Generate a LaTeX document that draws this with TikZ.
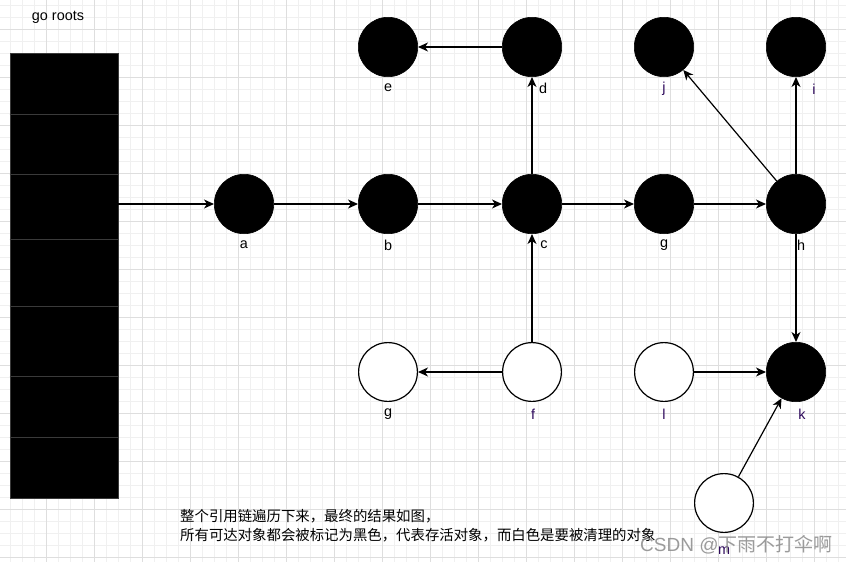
\documentclass[tikz,border=0pt]{standalone}
\usepackage{fontspec}
\setmainfont{Liberation Sans}
\newfontfamily\cjk{Noto Sans CJK SC}
\usetikzlibrary{arrows.meta}
\definecolor{minorgrid}{HTML}{F0F0F0}
\definecolor{majorgrid}{HTML}{DEDEDE}
\definecolor{lblp}{HTML}{2E0A5C}
\definecolor{divider}{HTML}{3A3A3A}
\definecolor{wmark}{HTML}{8A8A8A}
\begin{document}
\begin{tikzpicture}[x=1pt,y=-1pt,
  blk/.style={circle,fill=black,draw=black,line width=0.6pt,minimum size=59.4pt,inner sep=0pt},
  wht/.style={circle,fill=white,draw=black,line width=1.2pt,minimum size=58.8pt,inner sep=0pt},
  lab/.style={font=\fontsize{14.4}{17}\selectfont,inner sep=0pt},
  labp/.style={lab,text=lblp},
  arr/.style={line width=1.2pt,-{Stealth[length=10pt,width=9pt,inset=3pt]}},
]
\useasboundingbox (0,0) rectangle (846,562);
\fill[white] (0,0) rectangle (846,562);
% grid
\foreach \x in {10,22,...,846} \draw[minorgrid,line width=0.8pt] (\x,0) -- (\x,562);
\foreach \y in {5,17,...,562} \draw[minorgrid,line width=0.8pt] (0,\y) -- (846,\y);
\foreach \x in {46,94,...,846} \draw[majorgrid,line width=0.9pt] (\x,0) -- (\x,562);
\foreach \y in {29,77,...,562} \draw[majorgrid,line width=0.9pt] (0,\y) -- (846,\y);

% roots stack
\node[lab] (title) at (58,17) {go roots};
\node[fill=black,draw=divider,line width=0.8pt,minimum width=108pt,minimum height=445pt,inner sep=0pt] (roots) at (64,275.5) {};
\foreach \y in {114,174,239,306,376,437}
  \draw[divider,line width=1pt] (roots.west |- 0,\y) -- (roots.east |- 0,\y);

% black nodes
\node[blk] (a) at (244,204) {};
\node[blk] (b) at (388,204) {};
\node[blk] (c) at (532,204) {};
\node[blk] (g1) at (664,204) {};
\node[blk] (h) at (796,204) {};
\node[blk] (e) at (388,47) {};
\node[blk] (d) at (532,47) {};
\node[blk] (j) at (664,47) {};
\node[blk] (i) at (796,47) {};
\node[blk] (k) at (796,372) {};
% white nodes
\node[wht] (g2) at (388,372) {};
\node[wht] (f) at (532,372) {};
\node[wht] (l) at (664,372) {};
\node[wht] (m) at (724,503) {};

% labels
\node[lab] (la) at (244,245) {a};
\node[lab] (lb) at (388,245) {b};
\node[lab] (lc) at (544,245) {c};
\node[lab] (lg1) at (664,245) {g};
\node[lab] (lh) at (801,245) {h};
\node[lab] (le) at (388,88) {e};
\node[lab] (ld) at (543,88) {d};
\node[labp] (lj) at (664,89) {j};
\node[labp] (li) at (814,89) {i};
\node[lab] (lg2) at (388,414) {g};
\node[labp] (lf) at (533,414) {f};
\node[labp] (ll) at (664,414) {l};
\node[labp] (lk) at (802,414) {k};
\node[labp] (lm) at (724,551) {m};

% connectors
\draw[arr] (roots.east |- a.west) -- (a);
\draw[arr] (a) -- (b);
\draw[arr] (b) -- (c);
\draw[arr] (c) -- (g1);
\draw[arr] (g1) -- (h);
\draw[arr] (c) -- (d);
\draw[arr] (d) -- (e);
\draw[arr] (h) -- (i);
\draw[arr] (h) -- (j);
\draw[arr] (h) -- (k);
\draw[arr] (f) -- (c);
\draw[arr] (f) -- (g2);
\draw[arr] (l) -- (k);
\draw[arr] (m) -- (k);

% caption
\node[anchor=north west,inner sep=0pt,align=left,font=\cjk\fontsize{14.4}{19.5}\selectfont] (cap) at (180,509)
  {整个引用链遍历下来，最终的结果如图，\\所有可达对象都会被标记为黑色，代表存活对象，而白色是要被清理的对象};

% watermark
\node[anchor=west,inner sep=0pt,text=wmark,text opacity=0.85,font=\fontsize{19}{22}\selectfont] (wm) at (640,545)
  {CSDN @{\cjk 下雨不打伞啊}};
\end{tikzpicture}
\end{document}
